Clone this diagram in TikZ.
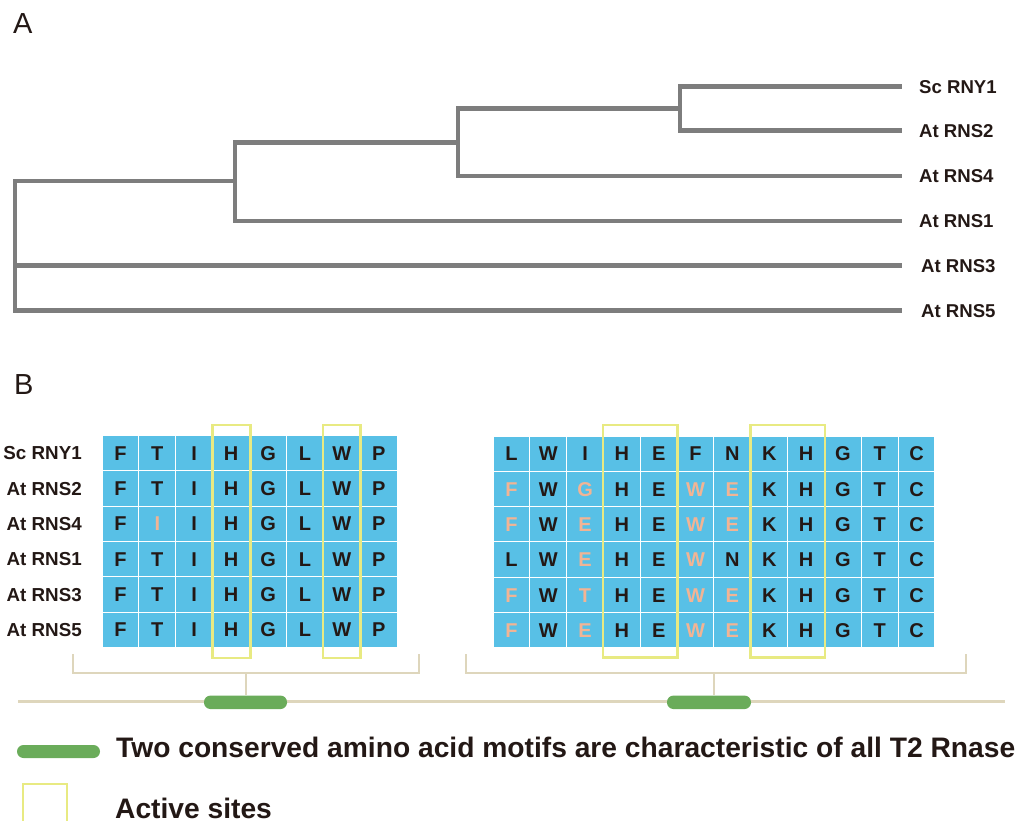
\documentclass[tikz,border=0pt]{standalone}
\usepackage{fontspec}
\setmainfont{Liberation Sans}
\definecolor{treegray}{RGB}{125,125,125}
\definecolor{cellblue}{RGB}{88,192,230}
\definecolor{letk}{RGB}{35,24,21}
\definecolor{leto}{RGB}{242,180,148}
\definecolor{ybox}{RGB}{232,234,130}
\definecolor{tan}{RGB}{222,214,188}
\definecolor{pillgreen}{RGB}{106,172,90}
\begin{document}
\begin{tikzpicture}[x=1pt,y=-1pt,
  tree/.style={draw=treegray, line width=4.6pt},
  treelab/.style={anchor=west, inner sep=0pt, text height=13.3pt, text depth=0pt, text=letk, font=\fontsize{18.6}{20}\selectfont\bfseries},
  panel/.style={anchor=west, inner sep=0pt, text height=20.8pt, text depth=0pt, text=letk, font=\fontsize{29}{30}\selectfont},
  cell/.style={rectangle, fill=cellblue, draw=white, line width=1pt, minimum width=36.9pt, minimum height=35.33pt, inner sep=0pt, text height=14.3pt, text depth=0pt, font=\fontsize{20}{20}\selectfont\bfseries},
  rowlab/.style={anchor=east, inner sep=0pt, text height=13.5pt, text depth=0pt, text=letk, font=\fontsize{18.8}{20}\selectfont\bfseries},
  ysite/.style={draw=ybox, line width=2.8pt},
  brk/.style={draw=tan, line width=2.8pt},
  pill/.style={rectangle, fill=pillgreen, rounded corners=6.5pt, minimum height=13.5pt, inner sep=0pt},
  legend/.style={anchor=base west, inner sep=0pt, text=letk, font=\fontsize{28.2}{30}\selectfont\bfseries}
]
\useasboundingbox (0,0) rectangle (1021,821);

% ---------- Panel A: tree ----------
\node[panel] (A) at (13,23) {A};
\coordinate (tip1) at (902,86.7);
\coordinate (tip2) at (902,130.7);
\coordinate (tip3) at (902,176);
\coordinate (tip4) at (902,221);
\coordinate (tip5) at (902,265.7);
\coordinate (tip6) at (902,310.7);
\coordinate (n1) at (680,108.5);
\coordinate (n2) at (458,142.5);
\coordinate (n3) at (235,181);
\coordinate (root) at (15,246);
\draw[tree] (n1) |- (tip1);
\draw[tree] (n1) |- (tip2);
\draw[tree] (n2) |- (n1);
\draw[tree] (n2) |- (tip3);
\draw[tree] (n3) |- (n2);
\draw[tree] (n3) |- (tip4);
\draw[tree] (root) |- (n3);
\draw[tree] (root) |- (tip5);
\draw[tree] (root) |- (tip6);
\node[treelab] (t1) at (919,86.7) {Sc RNY1};
\node[treelab] (t2) at (919,130.7) {At RNS2};
\node[treelab] (t3) at (919,176) {At RNS4};
\node[treelab] (t4) at (919,221) {At RNS1};
\node[treelab] (t5) at (921,265.7) {At RNS3};
\node[treelab] (t6) at (921,310.7) {At RNS5};

% ---------- Panel B: alignment ----------
\node[panel] (B) at (14,384) {B};
\foreach \lab [count=\r] in {Sc RNY1,At RNS2,At RNS4,At RNS1,At RNS3,At RNS5}
  \node[rowlab] (lab-\r) at (82,{435.5+(\r-0.5)*35.33}) {\lab};

\foreach \row [count=\r] in {
  {F/k,T/k,I/k,H/k,G/k,L/k,W/k,P/k},
  {F/k,T/k,I/k,H/k,G/k,L/k,W/k,P/k},
  {F/k,I/o,I/k,H/k,G/k,L/k,W/k,P/k},
  {F/k,T/k,I/k,H/k,G/k,L/k,W/k,P/k},
  {F/k,T/k,I/k,H/k,G/k,L/k,W/k,P/k},
  {F/k,T/k,I/k,H/k,G/k,L/k,W/k,P/k}}
  \foreach \ch/\col [count=\c] in \row
    \node[cell, text=let\col] (L-\r-\c) at ({102+(\c-0.5)*36.9},{435.5+(\r-0.5)*35.33}) {\ch};

\foreach \row [count=\r] in {
  {L/k,W/k,I/k,H/k,E/k,F/k,N/k,K/k,H/k,G/k,T/k,C/k},
  {F/o,W/k,G/o,H/k,E/k,W/o,E/o,K/k,H/k,G/k,T/k,C/k},
  {F/o,W/k,E/o,H/k,E/k,W/o,E/o,K/k,H/k,G/k,T/k,C/k},
  {L/k,W/k,E/o,H/k,E/k,W/o,N/k,K/k,H/k,G/k,T/k,C/k},
  {F/o,W/k,T/o,H/k,E/k,W/o,E/o,K/k,H/k,G/k,T/k,C/k},
  {F/o,W/k,E/o,H/k,E/k,W/o,E/o,K/k,H/k,G/k,T/k,C/k}}
  \foreach \ch/\col [count=\c] in \row
    \node[cell, minimum width=36.83pt, text=let\col] (R-\r-\c) at ({493+(\c-0.5)*36.83},{436+(\r-0.5)*35.33}) {\ch};

% active-site boxes
\draw[ysite] ([yshift=10pt]L-1-4.north west) rectangle ([yshift=-10pt]L-6-4.south east);
\draw[ysite] ([yshift=10pt]L-1-7.north west) rectangle ([yshift=-10pt]L-6-7.south east);
\draw[ysite] ([yshift=10.5pt]R-1-4.north west) rectangle ([yshift=-9pt]R-6-5.south east);
\draw[ysite] ([yshift=10.5pt]R-1-8.north west) rectangle ([yshift=-9pt]R-6-9.south east);

% brackets and protein line
\coordinate (mainL) at (18,701.7);
\coordinate (mainR) at (1005,701.7);
\draw[brk] (mainL) -- (mainR);
\coordinate (bL1) at (73,654);
\coordinate (bL2) at (419,654);
\coordinate (bLm) at (246,673);
\coordinate (bR1) at (466,654);
\coordinate (bR2) at (966,654);
\coordinate (bRm) at (714,673);
\draw[brk] (bL1) |- (bLm) -| (bL2);
\draw[brk] (bR1) |- (bRm) -| (bR2);
\node[pill, minimum width=83pt] (pill1) at (245.5,702.3) {};
\node[pill, minimum width=84pt] (pill2) at (709,702.3) {};
\draw[brk] (bLm) -- (bLm |- pill1.north);
\draw[brk] (bRm) -- (bRm |- pill2.north);

% legend
\node[pill, minimum width=83pt, minimum height=13pt] (pill3) at (58.5,751.5) {};
\node[legend] (leg1) at (116,757.7) {Two conserved amino acid motifs are characteristic of all T2 Rnase};
\draw[ysite, line width=2.5pt] (23,830) |- (67,784) -- (67,830);
\node[legend, text depth=0pt] (leg2) at (115,818) {Active sites};
\end{tikzpicture}
\end{document}
